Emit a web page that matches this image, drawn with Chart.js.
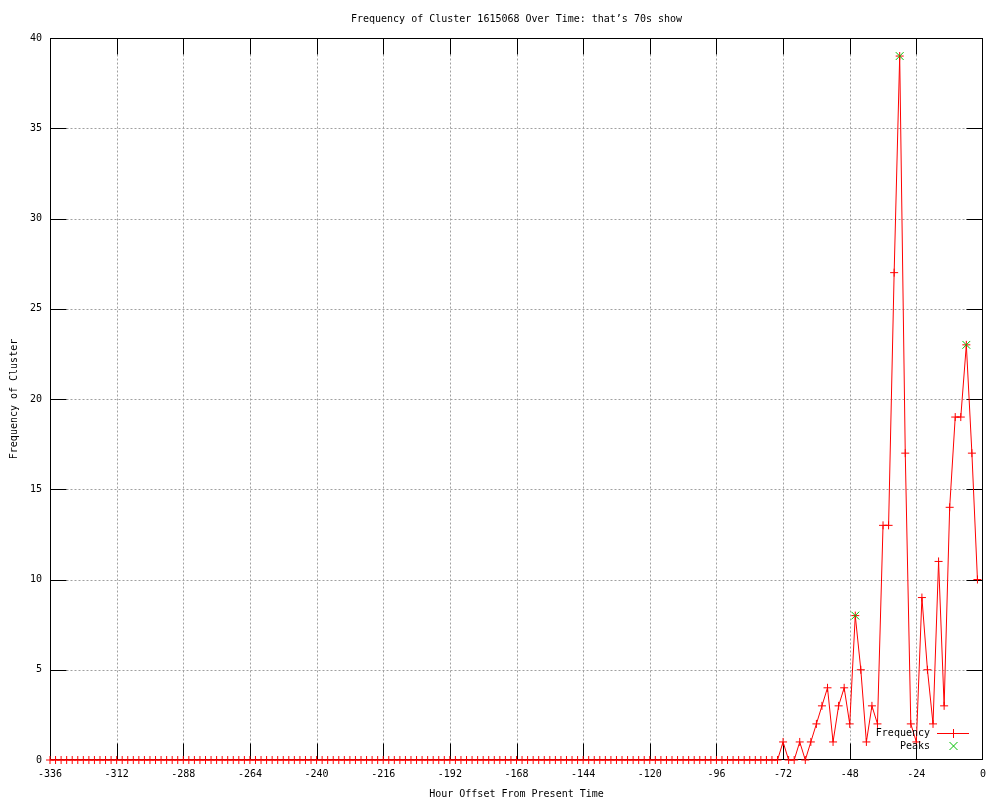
<!DOCTYPE html>
<html>
<head>
<meta charset="utf-8">
<title>Frequency of Cluster 1615068</title>
<script src="https://cdn.jsdelivr.net/npm/chart.js@4.4.1/dist/chart.umd.min.js"></script>
<style>
  html, body { margin: 0; padding: 0; background: #fff; }
  #wrap { width: 1000px; height: 800px; }
</style>
</head>
<body>
<div id="wrap"><canvas id="chart" width="1000" height="800"></canvas></div>
<script>
// Hour offsets: one bucket every 2 hours, from -336 up to -2
const firstHour = -336;
const hourStep = 2;

// Frequency per bucket, oldest first
const frequency = [
    0, 0, 0, 0, 0, 0, 0, 0, 0, 0, 0, 0, 0, 0, 0, 0, 0, 0, 0, 0, 0, 0,
    0, 0, 0, 0, 0, 0, 0, 0, 0, 0, 0, 0, 0, 0, 0, 0, 0, 0, 0, 0, 0, 0,
    0, 0, 0, 0, 0, 0, 0, 0, 0, 0, 0, 0, 0, 0, 0, 0, 0, 0, 0, 0, 0, 0,
    0, 0, 0, 0, 0, 0, 0, 0, 0, 0, 0, 0, 0, 0, 0, 0, 0, 0, 0, 0, 0, 0,
    0, 0, 0, 0, 0, 0, 0, 0, 0, 0, 0, 0, 0, 0, 0, 0, 0, 0, 0, 0, 0, 0,
    0, 0, 0, 0, 0, 0, 0, 0, 0, 0, 0, 0, 0, 0, 0, 0, 0, 0, 0, 0, 0, 0,
    // -72 .. -2
    1, 0, 0, 1, 0, 1, 2, 3, 4, 1, 3, 4, 2, 8, 5, 1, 3, 2,
    13, 13, 27, 39, 17, 2, 1, 9, 5, 2, 11, 3, 14, 19, 19, 23, 17, 10
];

// Detected peaks
const peakHours = [-46, -30, -6];
const peakValues = [8, 39, 23];

// Axis ranges and tick steps
const xMin = -336, xMax = 0, xTickStep = 24;
const yMin = 0, yMax = 40, yTickStep = 5;

const hours = frequency.map((v, i) => firstHour + i * hourStep);
const freqPoints = frequency.map((v, i) => ({ x: hours[i], y: v }));
const peakPoints = peakHours.map((h, i) => ({ x: h, y: peakValues[i] }));

const FONT = "'DejaVu Sans Mono', 'Liberation Mono', monospace";
const RED = "#ff0000";
const GREEN = "#00c000";

// gnuplot style frame: dotted grid, inward ticks on all four sides, full box
const framePlugin = {
    id: "frame",
    beforeDatasetsDraw(chart) {
        const { ctx, chartArea: a, scales: { x, y } } = chart;
        const L = Math.round(a.left) + 0.5, R = Math.round(a.right) - 0.5;
        const T = Math.round(a.top) + 0.5, B = Math.round(a.bottom) - 0.5;
        const clampX = v => Math.min(R, Math.max(L, Math.round(x.getPixelForValue(v)) + 0.5));
        const clampY = v => Math.min(B, Math.max(T, Math.round(y.getPixelForValue(v)) + 0.5));
        const tickLen = 16;
        ctx.save();
        ctx.lineWidth = 1;

        // grid
        ctx.strokeStyle = "#a0a0a0";
        ctx.setLineDash([2, 2]);
        ctx.beginPath();
        x.ticks.forEach(t => {
            const px = clampX(t.value);
            if (px <= L + 1 || px >= R - 1) return;
            ctx.moveTo(px, T);
            ctx.lineTo(px, B);
        });
        y.ticks.forEach(t => {
            const py = clampY(t.value);
            if (py <= T + 1 || py >= B - 1) return;
            ctx.moveTo(L, py);
            ctx.lineTo(R, py);
        });
        ctx.stroke();

        // tick marks
        ctx.setLineDash([]);
        ctx.strokeStyle = "#000";
        ctx.beginPath();
        x.ticks.forEach(t => {
            const px = clampX(t.value);
            ctx.moveTo(px, B); ctx.lineTo(px, B - tickLen);
            ctx.moveTo(px, T); ctx.lineTo(px, T + tickLen);
        });
        y.ticks.forEach(t => {
            const py = clampY(t.value);
            ctx.moveTo(L, py); ctx.lineTo(L + tickLen, py);
            ctx.moveTo(R, py); ctx.lineTo(R - tickLen, py);
        });
        ctx.stroke();

        // border
        ctx.strokeRect(L, T, R - L, B - T);
        ctx.restore();
    },
    afterDatasetsDraw(chart) {
        // key in the bottom right corner of the plot
        const { ctx, chartArea: a } = chart;
        const textRight = a.right - 53;
        const sx0 = Math.round(a.right - 46), sx1 = Math.round(a.right - 14);
        const sxm = Math.round((sx0 + sx1) / 2) + 0.5;
        const row1 = Math.round(a.bottom - 27), row2 = Math.round(a.bottom - 14);
        ctx.save();
        ctx.font = "10px " + FONT;
        ctx.fillStyle = "#000";
        ctx.textAlign = "right";
        ctx.textBaseline = "middle";
        ctx.fillText("Frequency", textRight, row1);
        ctx.fillText("Peaks", textRight, row2);

        ctx.lineWidth = 1;
        ctx.strokeStyle = RED;
        ctx.beginPath();
        ctx.moveTo(sx0, row1 + 0.5); ctx.lineTo(sx1, row1 + 0.5);
        ctx.moveTo(sxm, row1 - 4); ctx.lineTo(sxm, row1 + 5);
        ctx.stroke();

        ctx.strokeStyle = GREEN;
        ctx.beginPath();
        ctx.moveTo(sxm - 4, row2 - 4); ctx.lineTo(sxm + 4, row2 + 4);
        ctx.moveTo(sxm + 4, row2 - 4); ctx.lineTo(sxm - 4, row2 + 4);
        ctx.stroke();
        ctx.restore();
    }
};

const ctx = document.getElementById("chart").getContext("2d");
new Chart(ctx, {
    type: "line",
    data: {
        datasets: [
            {
                label: "Peaks",
                data: peakPoints,
                showLine: false,
                pointStyle: "crossRot",
                pointRadius: 5.5,
                pointBorderColor: GREEN,
                pointBorderWidth: 1,
                borderColor: GREEN,
                clip: false,
                order: 0,
            },
            {
                label: "Frequency",
                data: freqPoints,
                borderColor: RED,
                borderWidth: 1,
                tension: 0,
                fill: false,
                pointStyle: "cross",
                pointRadius: 4,
                pointBorderColor: RED,
                pointBorderWidth: 1,
                clip: false,
                order: 1,
            },
        ],
    },
    options: {
        responsive: false,
        animation: false,
        events: [],
        layout: { padding: { left: 0, right: 17, top: 0, bottom: 0 } },
        plugins: {
            legend: { display: false },
            tooltip: { enabled: false },
            title: {
                display: true,
                fullSize: false,
                text: "Frequency of Cluster 1615068 Over Time: that\u2019s 70s show",
                color: "#000",
                font: { family: FONT, size: 10, weight: "normal" },
                padding: { top: 13, bottom: 13 },
            },
        },
        scales: {
            x: {
                type: "linear",
                min: xMin,
                max: xMax,
                grid: { display: false, drawTicks: false },
                border: { display: false },
                ticks: {
                    stepSize: xTickStep,
                    color: "#000",
                    font: { family: FONT, size: 10 },
                    padding: 8,
                    maxRotation: 0,
                    autoSkip: false,
                },
                title: {
                    display: true,
                    text: "Hour Offset From Present Time",
                    color: "#000",
                    font: { family: FONT, size: 10 },
                    padding: { top: 0, bottom: 0 },
                },
                afterFit(scale) { scale.height = 40; },
            },
            y: {
                type: "linear",
                min: yMin,
                max: yMax,
                grid: { display: false, drawTicks: false },
                border: { display: false },
                ticks: {
                    stepSize: yTickStep,
                    color: "#000",
                    font: { family: FONT, size: 10 },
                    padding: 8,
                },
                title: {
                    display: true,
                    text: "Frequency of Cluster",
                    color: "#000",
                    font: { family: FONT, size: 10 },
                    padding: { top: 8, bottom: 0 },
                },
                afterFit(scale) { scale.width = 50; },
            },
        },
    },
    plugins: [framePlugin],
});
</script>
</body>
</html>
